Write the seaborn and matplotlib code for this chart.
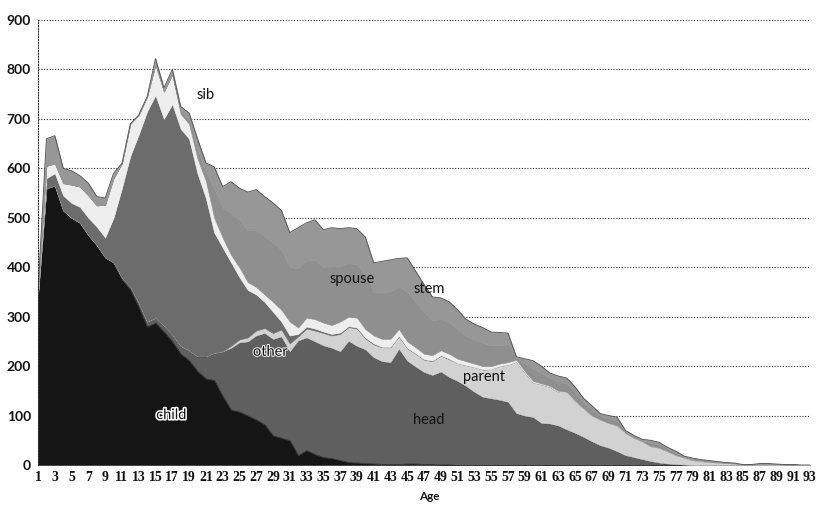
import numpy as np
import pandas as pd
import matplotlib
matplotlib.use("Agg")
import matplotlib.pyplot as plt
import matplotlib.patheffects as pe
import matplotlib.colors as mcolors
import seaborn as sns

# ── data: persons by age and relation to head ─────────────────

ages = list(range(1, 94))

child = [345, 560, 565, 515, 500, 490, 465, 445, 420, 410,
         375, 355, 320, 280, 288, 270, 250, 225, 212, 190,
         175, 172, 140, 112, 108, 100, 92, 82, 60, 55,
         50, 20, 30, 22, 16, 14, 10, 6, 5, 4,
         3, 2, 2, 2, 3, 3, 2, 2, 1, 1,
         0, 0, 0, 0, 0, 0, 0, 0, 0, 0,
         0, 0, 0, 0, 0, 0, 0, 0, 0, 0,
         0, 0, 0, 0, 0, 0, 0, 0, 0, 0,
         0, 0, 0, 0, 0, 0, 0, 0, 0, 0,
         0, 0, 0]

head = [0, 0, 0, 0, 0, 0, 0, 0, 0, 0,
        4, 6, 8, 10, 10, 12, 14, 16, 20, 30,
        45, 55, 90, 125, 140, 150, 170, 185, 195, 205,
        180, 232, 228, 228, 226, 223, 220, 245, 236, 230,
        215, 208, 206, 233, 208, 196, 186, 180, 188, 177,
        170, 160, 148, 138, 135, 132, 128, 105, 100, 97,
        85, 84, 80, 72, 65, 57, 48, 40, 35, 28,
        20, 16, 12, 8, 5, 3, 2, 1, 0, 0,
        0, 0, 0, 0, 0, 0, 0, 0, 0, 0,
        0, 0, 0]

parent = [0, 0, 0, 0, 0, 0, 0, 0, 0, 0,
          0, 0, 0, 0, 0, 0, 0, 0, 0, 0,
          0, 0, 0, 4, 6, 8, 10, 10, 12, 14,
          16, 8, 18, 22, 25, 25, 35, 28, 35, 22,
          26, 28, 30, 25, 25, 26, 25, 28, 32, 36,
          36, 42, 50, 55, 59, 68, 75, 104, 87, 70,
          78, 74, 68, 75, 64, 58, 52, 52, 50, 52,
          45, 39, 36, 30, 30, 25, 18, 14, 10, 8,
          6, 5, 4, 3, 1, 1, 2, 2, 1, 1,
          1, 0, 0]

other = [3, 20, 25, 30, 30, 32, 35, 37, 40, 90,
         181, 264, 340, 425, 450, 418, 466, 439, 428, 370,
         320, 243, 210, 169, 126, 96, 73, 53, 43, 16,
         16, 5, 4, 4, 3, 3, 3, 2, 2, 2,
         2, 1, 1, 1, 1, 1, 1, 1, 1, 1,
         0, 0, 0, 0, 0, 0, 0, 0, 0, 0,
         0, 0, 0, 0, 0, 0, 0, 0, 0, 0,
         0, 0, 0, 0, 0, 0, 0, 0, 0, 0,
         0, 0, 0, 0, 0, 0, 0, 0, 0, 0,
         0, 0, 0]

sib = [3, 25, 20, 25, 37, 41, 45, 43, 66, 80,
       50, 65, 40, 30, 62, 55, 60, 30, 30, 30,
       35, 30, 20, 15, 20, 16, 15, 15, 20, 24,
       28, 13, 18, 19, 18, 18, 22, 19, 20, 17,
       16, 16, 16, 14, 13, 12, 11, 11, 10, 10,
       9, 8, 7, 7, 6, 5, 5, 4, 3, 3,
       2, 2, 2, 1, 1, 0, 0, 0, 0, 0,
       0, 0, 0, 0, 0, 0, 0, 0, 0, 0,
       0, 0, 0, 0, 0, 0, 0, 0, 0, 0,
       0, 0, 0]

spouse = [0, 0, 0, 0, 0, 0, 0, 0, 0, 0,
          0, 0, 0, 0, 0, 0, 0, 5, 10, 20,
          18, 60, 60, 85, 95, 105, 115, 118, 120, 121,
          110, 120, 115, 120, 112, 118, 112, 108, 108, 110,
          88, 94, 96, 86, 100, 92, 84, 70, 64, 63,
          60, 51, 48, 47, 42, 38, 36, 4, 15, 25,
          21, 16, 18, 17, 17, 12, 12, 7, 9, 10,
          3, 3, 2, 7, 7, 5, 5, 2, 2, 2,
          2, 1, 1, 1, 0, 0, 1, 1, 1, 0,
          0, 0, 0]

stem = [4, 55, 56, 30, 28, 22, 25, 18, 14, 10,
        0, 0, 0, 0, 12, 8, 10, 10, 12, 20,
        18, 43, 43, 63, 65, 77, 82, 80, 80, 80,
        70, 82, 77, 81, 76, 79, 76, 72, 72, 76,
        59, 63, 64, 57, 69, 62, 56, 48, 42, 42,
        39, 34, 32, 31, 27, 25, 23, 2, 10, 16,
        14, 10, 12, 11, 11, 8, 8, 5, 6, 7,
        2, 2, 2, 5, 4, 3, 3, 1, 2, 1,
        1, 1, 0, 0, 0, 0, 0, 0, 0, 0,
        0, 0, 0]

# top of the stack first (seaborn stacks the last hue level at the bottom)
relations = ["stem", "spouse", "sib", "other", "parent", "head", "child"]
series = [stem, spouse, sib, other, parent, head, child]

colors = {
    "child":  "#151515",
    "head":   "#5f5f5f",
    "parent": "#d2d2d2",
    "other":  "#6c6c6c",
    "sib":    "#eeeeee",
    "spouse": "#8f8f8f",
    "stem":   "#979797",
}

# label positions (age, count) for the in-chart annotations
label_pos = {
    "child":  (16.9, 101),
    "other":  (28.7, 229),
    "head":   (47.6, 91),
    "parent": (54.1, 178),
    "spouse": (38.4, 376),
    "stem":   (47.6, 356),
    "sib":    (21.0, 749),
}

df = pd.DataFrame({
    "age":      np.tile(ages, len(relations)),
    "relation": np.repeat(relations, len(ages)),
    "count":    np.concatenate(series),
})
total = df.groupby("age")["count"].sum().reset_index()

# ── plot ──────────────────────────────────────────────────────

sns.set_theme(style="white")
plt.rcParams["font.family"] = ["Lato", "DejaVu Sans"]

fig = plt.figure(figsize=(8.2, 5.05), dpi=100)
ax = fig.add_axes([38 / 820, 40 / 505, 772 / 820, 445 / 505])

sns.histplot(data=df, x="age", weights="count", hue="relation",
             hue_order=relations, multiple="stack", element="poly",
             discrete=True, palette=colors, alpha=1,
             linewidth=0, legend=False, ax=ax)

# close the seams between areas; head gets a darker rim like the scan
face_to_name = {mcolors.to_hex(c): n for n, c in colors.items()}
for coll in ax.collections:
    fc = coll.get_facecolor()
    if len(fc) == 0:
        continue
    name = face_to_name.get(mcolors.to_hex(fc[0]))
    if name == "head":
        coll.set_edgecolor("#383838")
        coll.set_linewidth(0.7)
    else:
        coll.set_edgecolor(fc[0])
        coll.set_linewidth(0.4)

# thin outline along the top of the stack
sns.lineplot(data=total, x="age", y="count", color="#505050",
             linewidth=0.6, ax=ax)

ax.set_xlim(1, 93)
ax.set_ylim(0, 900)
ax.set_axisbelow(True)
ax.set_yticks(range(0, 901, 100))
ax.yaxis.grid(True, color="#303030", linestyle=(0, (1, 1.5)), linewidth=0.8)
ax.xaxis.grid(False)

ax.set_xticks(ages[::2])
ax.set_xticklabels([str(a) for a in ages[::2]],
                   family=["Liberation Serif", "DejaVu Serif"],
                   fontweight="bold", fontsize=10)
for lab in ax.get_yticklabels():
    lab.set_fontweight("bold")
    lab.set_fontsize(10)
ax.tick_params(axis="both", length=0, colors="#111111")
ax.tick_params(axis="x", pad=4)
ax.tick_params(axis="y", pad=5)

for side in ["top", "right", "bottom"]:
    ax.spines[side].set_visible(False)
ax.spines["left"].set_linestyle((0, (1, 1.5)))
ax.spines["left"].set_color("#303030")
ax.spines["left"].set_linewidth(0.8)

ax.set_xlabel("")
ax.set_ylabel("")
fig.text(0.524, 1 - 497 / 505, "Age", ha="center", va="center",
         fontsize=8.5, fontweight="bold", color="#111111")

for name, (x, y) in label_pos.items():
    if name == "child":
        fx = [pe.withStroke(linewidth=2.2, foreground="white")]
    elif name == "other":
        fx = [pe.withStroke(linewidth=1.5, foreground="#f0f0f0")]
    else:
        fx = None
    ax.text(x, y, name, ha="center", va="center", fontsize=10.5,
            color="#111111", path_effects=fx)

fig.savefig("out.png", dpi=100)
